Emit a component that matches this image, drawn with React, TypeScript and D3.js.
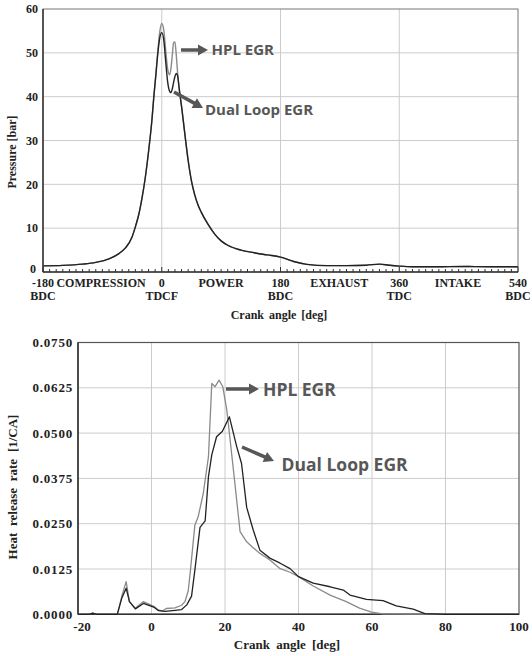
import React from 'react';
import * as d3 from 'd3';

// ---------- Top chart: cylinder pressure ----------
const pAngles = [-180, -150, -120, -100, -80, -65, -55, -45, -40, -35, -30, -25, -20, -15, -12, -9, -6, -3, 0, 3, 6, 9, 12, 14, 16, 18, 20, 22, 24, 26, 28, 30, 35, 40, 45, 50, 55, 60, 70, 80, 90, 100, 120, 140, 160, 180, 200, 220, 250, 280, 310, 330, 345, 360, 380, 420, 460, 500, 540];
const pHPL = [1.4, 1.5, 1.8, 2.2, 3.0, 4.2, 5.5, 8.0, 10.3, 13.0, 16.8, 21.5, 27.5, 34.5, 40, 45, 50.3, 54.8, 56.7, 55.3, 50.5, 46.3, 45, 46.5, 49.5, 52.3, 52.5, 49.5, 45.5, 42.2, 40, 37.8, 31.5, 25.5, 20.8, 17.6, 15.3, 13.6, 10.9, 8.7, 7.1, 6.1, 5.0, 4.4, 3.9, 3.4, 2.4, 1.75, 1.45, 1.45, 1.55, 1.8, 1.55, 1.35, 1.2, 1.2, 1.25, 1.2, 1.2];
const pDual = [1.4, 1.5, 1.8, 2.2, 3.0, 4.2, 5.5, 8.0, 10.3, 13.0, 16.8, 21.5, 27.5, 34.5, 40, 44.8, 49.8, 53.4, 54.6, 53, 48, 43.3, 41.2, 40.9, 41.8, 43.3, 44.6, 45.3, 44.8, 42.5, 40, 37.8, 31.5, 25.5, 20.8, 17.6, 15.3, 13.6, 10.9, 8.7, 7.1, 6.1, 5.0, 4.4, 3.9, 3.4, 2.4, 1.75, 1.45, 1.45, 1.55, 1.8, 1.55, 1.35, 1.2, 1.2, 1.25, 1.2, 1.2];
const pYTicks = [0, 10, 20, 30, 40, 50, 60];
const pXTickAngles = [-180, 0, 180, 360, 540];
const pXTickTop = ['-180', '0', '180', '360', '540'];
const pXTickBottom = ['BDC', 'TDCF', 'BDC', 'TDC', 'BDC'];
const strokeNames = ['COMPRESSION', 'POWER', 'EXHAUST', 'INTAKE'];
const strokeCenters = [-92, 90, 269, 449];

// ---------- Bottom chart: heat release rate ----------
const hAnglesHPL = [-20, -17, -16, -15, -9.3, -8.1, -6.9, -6.0, -4.4, -2.2, 0.6, 1.9, 3.0, 4.0, 6.4, 8.2, 9.1, 10.0, 10.6, 11.8, 12.7, 14.1, 15.5, 16.4, 17.3, 18.4, 19.4, 20.5, 22.3, 24.1, 25.9, 27.5, 29.5, 32.2, 35, 37.7, 40, 44, 48.6, 53, 56.6, 59.9, 63, 80, 100];
const hHPL = [0, 0, 0.0003, 0, 0, 0.0049, 0.0090, 0.0035, 0.0017, 0.0035, 0.0022, 0.0012, 0.0009, 0.0016, 0.0018, 0.0025, 0.0035, 0.0065, 0.0122, 0.0246, 0.0269, 0.0334, 0.0435, 0.0637, 0.0628, 0.0646, 0.0628, 0.0563, 0.0398, 0.0228, 0.0200, 0.0185, 0.0168, 0.0150, 0.0126, 0.0116, 0.0104, 0.0078, 0.0053, 0.0035, 0.0017, 0.0006, 0.0001, 0, 0];
const hAnglesDual = [-20, -17, -16, -15, -9.3, -8.1, -6.9, -6.0, -4.4, -2.2, 0.6, 1.9, 3.7, 6.4, 8.2, 9.6, 10.9, 11.8, 13.2, 14.6, 15.5, 16.4, 17.7, 19.3, 21.2, 23.2, 24.5, 25.9, 27.7, 29.5, 32.2, 35, 37.7, 40, 44, 48.6, 52.2, 54, 58.5, 63, 66.6, 71.2, 74.4, 80, 100];
const hDual = [0, 0, 0.0003, 0, 0, 0.0044, 0.0072, 0.0035, 0.0015, 0.0030, 0.0020, 0.0010, 0.0008, 0.0011, 0.0013, 0.0026, 0.0050, 0.0122, 0.0240, 0.0258, 0.0380, 0.0440, 0.0490, 0.0505, 0.0545, 0.0462, 0.0416, 0.0295, 0.0232, 0.0177, 0.0155, 0.0141, 0.0126, 0.0104, 0.0086, 0.0076, 0.0067, 0.0053, 0.0041, 0.0038, 0.0023, 0.0014, 0.0002, 0, 0];
const hYTicks = [0, 0.0125, 0.025, 0.0375, 0.05, 0.0625, 0.075];
const hXTicks = [-20, 0, 20, 40, 60, 80, 100];

const serif = '"Liberation Serif", "Times New Roman", serif';
const sans = '"Open Sans", "Noto Sans", sans-serif';
const gridColor = '#cccccc';
const annColor = '#575757';

function Arrow({ x1, y1, x2, y2, w = 3.5, hl = 10, hw = 5.5 }: any) {
  const ang = Math.atan2(y2 - y1, x2 - x1);
  const bx = x2 - hl * Math.cos(ang);
  const by = y2 - hl * Math.sin(ang);
  const px = -Math.sin(ang) * hw;
  const py = Math.cos(ang) * hw;
  return (
    <g>
      <line x1={x1} y1={y1} x2={bx + Math.cos(ang)} y2={by + Math.sin(ang)} stroke={annColor} strokeWidth={w} />
      <polygon points={`${x2},${y2} ${bx + px},${by + py} ${bx - px},${by - py}`} fill={annColor} />
    </g>
  );
}

export default function App() {
  // top scales
  const px = d3.scaleLinear().domain([-180, 540]).range([43, 518]);
  const py = d3.scaleLinear().domain([0, 60]).range([272, 9]);
  const pLine = d3.line<number>().x((_, i) => px(pAngles[i])).y((d) => py(d)).curve(d3.curveMonotoneX);
  const minorTicks = d3.range(-180, 541, 10);

  // bottom scales
  const hx = d3.scaleLinear().domain([-20, 100]).range([78, 519]);
  const hy = d3.scaleLinear().domain([0, 0.075]).range([614.3, 342.5]);
  const hLineHPL = d3.line<number>().x((_, i) => hx(hAnglesHPL[i])).y((d) => hy(d));
  const hLineDual = d3.line<number>().x((_, i) => hx(hAnglesDual[i])).y((d) => hy(d));

  return (
    <svg width={532} height={656} style={{ position: 'absolute', left: 0, top: 0, background: '#fff' }}>
      <rect x={0} y={0} width={532} height={656} fill="#fff" />
      {/* ===== Top chart ===== */}
      <g>
        {pYTicks.filter((t) => t > 0 && t < 60).map((t) => (
          <line key={'pg' + t} x1={px(-180)} x2={px(540)} y1={py(t)} y2={py(t)} stroke={gridColor} strokeWidth={1} />
        ))}
        {[0, 180, 360].map((t) => (
          <line key={'pv' + t} x1={px(t)} x2={px(t)} y1={py(60)} y2={py(0)} stroke={gridColor} strokeWidth={1} />
        ))}
        <rect x={px(-180)} y={py(60)} width={px(540) - px(-180)} height={py(0) - py(60)} fill="none" stroke="#777" strokeWidth={1} />
        <line x1={px(-180)} x2={px(-180)} y1={py(60)} y2={py(0)} stroke="#333" strokeWidth={1.5} />
        <line x1={px(-180)} x2={px(540)} y1={py(0)} y2={py(0)} stroke="#333" strokeWidth={1.5} />
        {minorTicks.map((t) => (
          <line key={'pt' + t} x1={px(t)} x2={px(t)} y1={py(0)} y2={py(0) - (t % 180 === 0 ? 5 : 3)} stroke="#333" strokeWidth={1} />
        ))}
        <path d={pLine(pHPL) || ''} fill="none" stroke="#8a8a8a" strokeWidth={1.4} />
        <path d={pLine(pDual) || ''} fill="none" stroke="#222" strokeWidth={1.4} />
        {pYTicks.map((t) => (
          <text key={'py' + t} x={t === 0 ? 36 : 38} y={t === 0 ? py(t) - 3 : py(t)} dy="0.35em" textAnchor="end" fontFamily={serif} fontWeight="bold" fontSize={12} fill="#222">{t}</text>
        ))}
        {pXTickAngles.map((t, i) => (
          <g key={'px' + t}>
            <text x={px(t)} y={287} textAnchor="middle" fontFamily={serif} fontWeight="bold" fontSize={12} fill="#222">{pXTickTop[i]}</text>
            <text x={px(t)} y={300} textAnchor="middle" fontFamily={serif} fontWeight="bold" fontSize={12} fill="#222">{pXTickBottom[i]}</text>
          </g>
        ))}
        {strokeNames.map((s, i) => (
          <text key={s} x={px(strokeCenters[i])} y={287} textAnchor="middle" fontFamily={serif} fontWeight="bold" fontSize={12} fill="#222">{s}</text>
        ))}
        <text x={279} y={319} textAnchor="middle" fontFamily={serif} fontWeight="bold" fontSize={12} fill="#222" style={{ wordSpacing: '2px' }}>Crank angle [deg]</text>
        <text transform="translate(16,152) rotate(-90)" textAnchor="middle" fontFamily={serif} fontWeight="bold" fontSize={12} fill="#222">Pressure [bar]</text>
        <Arrow x1={181} y1={50} x2={208} y2={50} />
        <text x={211.5} y={55.3} fontFamily={sans} fontWeight="bold" fontSize={15} fill={annColor}>HPL EGR</text>
        <Arrow x1={174} y1={92} x2={203} y2={108} />
        <text x={205} y={114.5} fontFamily={sans} fontWeight="bold" fontSize={15} fill={annColor}>Dual Loop EGR</text>
      </g>

      {/* ===== Bottom chart ===== */}
      <g>
        {hYTicks.filter((t) => t > 0 && t < 0.075).map((t) => (
          <line key={'hg' + t} x1={hx(-20)} x2={hx(100)} y1={hy(t)} y2={hy(t)} stroke={gridColor} strokeWidth={1} />
        ))}
        {hXTicks.filter((t) => t > -20 && t < 100).map((t) => (
          <line key={'hv' + t} x1={hx(t)} x2={hx(t)} y1={hy(0.075)} y2={hy(0)} stroke={gridColor} strokeWidth={1} />
        ))}
        <rect x={hx(-20)} y={hy(0.075)} width={hx(100) - hx(-20)} height={hy(0) - hy(0.075)} fill="none" stroke="#555" strokeWidth={1.2} />
        <line x1={hx(-20)} x2={hx(-20)} y1={hy(0.075)} y2={hy(0)} stroke="#333" strokeWidth={1.5} />
        <line x1={hx(-20)} x2={hx(100)} y1={hy(0)} y2={hy(0)} stroke="#333" strokeWidth={1.5} />
        <path d={hLineHPL(hHPL) || ''} fill="none" stroke="#8a8a8a" strokeWidth={1.3} strokeLinejoin="round" />
        <path d={hLineDual(hDual) || ''} fill="none" stroke="#222" strokeWidth={1.3} strokeLinejoin="round" />
        {hYTicks.map((t) => (
          <text key={'hy' + t} x={73} y={hy(t)} dy="0.35em" textAnchor="end" fontFamily={serif} fontWeight="bold" fontSize={13} fill="#222" letterSpacing={0.8}>{t.toFixed(4)}</text>
        ))}
        {hXTicks.map((t) => (
          <text key={'hx' + t} x={hx(t) + (t === -20 ? 4 : 0)} y={631} textAnchor="middle" fontFamily={serif} fontWeight="bold" fontSize={13} fill="#222">{t}</text>
        ))}
        <text x={287} y={649} textAnchor="middle" fontFamily={serif} fontWeight="bold" fontSize={13} fill="#222" style={{ wordSpacing: '3px' }}>Crank angle [deg]</text>
        <text transform="translate(17,487) rotate(-90)" textAnchor="middle" fontFamily={serif} fontWeight="bold" fontSize={13} fill="#222" style={{ wordSpacing: '3.5px' }}>Heat release rate [1/CA]</text>
        <Arrow x1={226} y1={389} x2={259} y2={389} />
        <text x={263} y={395.5} fontFamily={sans} fontWeight="bold" fontSize={17.5} fill={annColor}>HPL EGR</text>
        <Arrow x1={242} y1={447} x2={274} y2={461} />
        <text x={281.5} y={470.5} fontFamily={sans} fontWeight="bold" fontSize={17.5} fill={annColor}>Dual Loop EGR</text>
      </g>
    </svg>
  );
}
